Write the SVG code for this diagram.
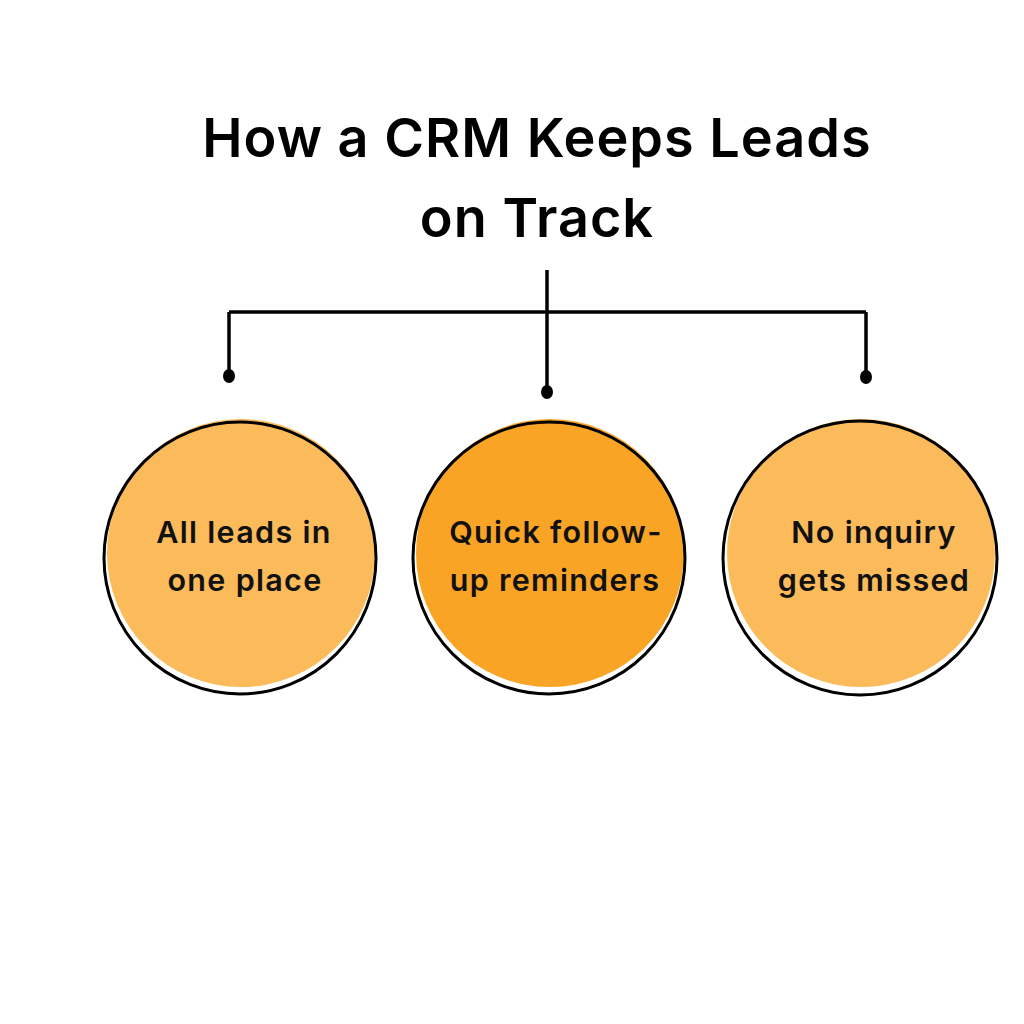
<svg xmlns="http://www.w3.org/2000/svg" width="1024" height="1024" viewBox="0 0 1024 1024">
<style>
.title{font-family:Inter,"Noto Sans",sans-serif;font-weight:600;font-size:54px;letter-spacing:1px;fill:#000;text-anchor:middle}
.lbl{font-family:Inter,"Noto Sans",sans-serif;font-weight:600;font-size:30.5px;letter-spacing:1.3px;fill:#111;text-anchor:middle}
.ring{fill:none;stroke:#000;stroke-width:3}
.conn{stroke:#000;stroke-width:3.5;fill:none}
</style>
<rect width="1024" height="1024" fill="#fff"/>
<g id="title">
<text class="title" x="537" y="157">How a CRM Keeps Leads</text>
<text class="title" x="537" y="237">on Track</text>
</g>
<g id="connectors">
<path class="conn" d="M547 270 V390 M229 312 H866 M229 312 V374 M866 312 V375"/>
<ellipse cx="229" cy="376" rx="6" ry="7"/>
<ellipse cx="547" cy="392" rx="6" ry="7"/>
<ellipse cx="866" cy="377" rx="6" ry="7"/>
</g>
<g id="node1">
<circle cx="241" cy="553" r="134" fill="#FBBB5A"/>
<circle class="ring" cx="240" cy="558" r="136"/>
<text class="lbl" x="244" y="543">All leads in</text>
<text class="lbl" x="245" y="591">one place</text>
</g>
<g id="node2">
<circle cx="550" cy="553" r="134" fill="#F9A425"/>
<circle class="ring" cx="549" cy="558" r="136"/>
<text class="lbl" x="556" y="543">Quick follow-</text>
<text class="lbl" x="555" y="591">up reminders</text>
</g>
<g id="node3">
<circle cx="861" cy="553" r="134" fill="#FBBB5A"/>
<circle class="ring" cx="860" cy="558" r="137"/>
<text class="lbl" x="874" y="543">No inquiry</text>
<text class="lbl" x="874" y="591">gets missed</text>
</g>
</svg>
